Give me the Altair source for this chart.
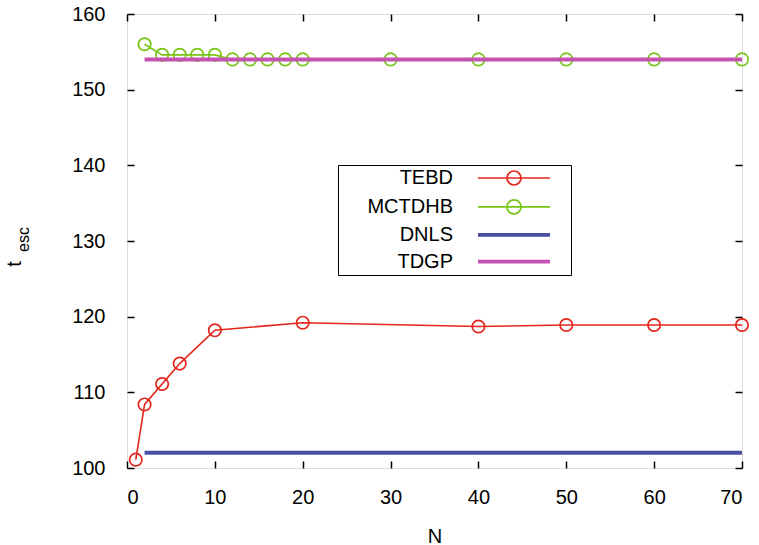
import altair as alt
import pandas as pd

FONT = "Liberation Sans"

methods = ["TEBD", "MCTDHB", "DNLS", "TDGP"]
colors = ["#e2261c", "#78c415", "#4a4ea4", "#c552b1"]

tebd_n = [1, 2, 4, 6, 10, 20, 40, 50, 60, 70]
tebd_t = [101.1, 108.4, 111.1, 113.8, 118.2, 119.2, 118.7, 118.9, 118.9, 118.9]
mctdhb_n = [2, 4, 6, 8, 10, 12, 14, 16, 18, 20, 30, 40, 50, 60, 70]
mctdhb_t = [156.0, 154.6, 154.6, 154.6, 154.6, 154.0, 154.0, 154.0, 154.0, 154.0,
            154.0, 154.0, 154.0, 154.0, 154.0]
dnls_n = [2, 70]
dnls_t = [102.0, 102.0]
tdgp_n = [2, 70]
tdgp_t = [154.0, 154.0]

x_ticks = [0, 10, 20, 30, 40, 50, 60, 70]
y_ticks = [100, 110, 120, 130, 140, 150, 160]

x_title = "N"
y_title_main = "t"
y_title_sub = "esc"

rows = []
for m, ns, ts in [("TEBD", tebd_n, tebd_t), ("MCTDHB", mctdhb_n, mctdhb_t),
                  ("DNLS", dnls_n, dnls_t), ("TDGP", tdgp_n, tdgp_t)]:
    for n, t in zip(ns, ts):
        rows.append({"method": m, "N": n, "t": t})
df = pd.DataFrame(rows)

xs = alt.Scale(domain=[0, 70], nice=False, zero=False)
ys = alt.Scale(domain=[100, 160], nice=False, zero=False)

# legend glyphs (gnuplot style: label on the left, sample on the right)
thin_shape = ("M35.5,0M21.17,0L33.17,0M28.34,0"
              "A1.167,1.167,0,1,1,26.0,0A1.167,1.167,0,1,1,28.34,0")
thick_shape = ("M35.5,0M21.17,-0.167L33.17,-0.167M21.17,0L33.17,0"
               "M21.17,0.167L33.17,0.167")
shapes = [thin_shape, thin_shape, thick_shape, thick_shape]

legend = alt.Legend(
    title=None, orient="none", legendX=211, legendY=151, direction="vertical",
    labelFont=FONT, labelFontSize=20, labelColor="black",
    labelAlign="right", labelBaseline="middle", labelOffset=92,
    symbolSize=144, symbolStrokeWidth=1.7, symbolOpacity=1, rowPadding=6.9,
    padding=3, strokeColor="black",
)

color = alt.Color("method:N", scale=alt.Scale(domain=methods, range=colors), legend=legend)
shape = alt.Shape("method:N", scale=alt.Scale(domain=methods, range=shapes), legend=legend)

ax_bottom_labels = alt.Axis(orient="bottom", values=x_ticks, ticks=False, tickSize=0,
                            domain=False, grid=False, labelFont=FONT, labelFontSize=20,
                            labelColor="black", labelPadding=19, title=x_title,
                            titleFont=FONT, titleFontSize=20, titleFontWeight="normal",
                            titleColor="black", titleBaseline="alphabetic", titleY=74)
ax_left_labels = alt.Axis(orient="left", values=y_ticks, ticks=False, tickSize=0,
                          domain=False, grid=False, labelFont=FONT, labelFontSize=20,
                          labelColor="black", labelPadding=22, title=None)


def tick_axis(orient, vals):
    return alt.Axis(orient=orient, offset={"expr": "-7"}, values=vals, labels=False,
                    domain=False, grid=False, ticks=True, tickSize=7, tickWidth=1.5,
                    tickColor="black", title=None)


base = alt.Chart(df)

legend_layer = base.transform_filter("false").mark_point(
    filled=False, strokeWidth=1.7, opacity=1
).encode(
    x=alt.X("N:Q", scale=xs, axis=None),
    y=alt.Y("t:Q", scale=ys, axis=None),
    color=color,
    shape=shape,
)

thin_lines = base.transform_filter(
    alt.FieldOneOfPredicate(field="method", oneOf=["TEBD", "MCTDHB"])
).mark_line(strokeWidth=1.6).encode(
    x=alt.X("N:Q", scale=xs, axis=ax_bottom_labels),
    y=alt.Y("t:Q", scale=ys, axis=ax_left_labels),
    color=color,
)

points = base.transform_filter(
    alt.FieldOneOfPredicate(field="method", oneOf=["TEBD", "MCTDHB"])
).mark_point(filled=False, size=154, strokeWidth=1.7, opacity=1).encode(
    x=alt.X("N:Q", scale=xs, axis=tick_axis("bottom", x_ticks)),
    y=alt.Y("t:Q", scale=ys, axis=tick_axis("left", y_ticks)),
    color=color,
)

thick_lines = base.transform_filter(
    alt.FieldOneOfPredicate(field="method", oneOf=["DNLS", "TDGP"])
).mark_line(strokeWidth=4).encode(
    x=alt.X("N:Q", scale=xs, axis=tick_axis("top", x_ticks)),
    y=alt.Y("t:Q", scale=ys, axis=tick_axis("right", y_ticks)),
    color=color,
)

t_main = alt.Chart(pd.DataFrame({"s": [y_title_main]})).mark_text(
    font=FONT, fontSize=20, angle=270, align="center", baseline="alphabetic", color="black"
).encode(text="s:N", x=alt.value(-106), y=alt.value(250))

t_sub = alt.Chart(pd.DataFrame({"s": [y_title_sub]})).mark_text(
    font=FONT, fontSize=16, angle=270, align="left", baseline="alphabetic", color="black"
).encode(text="s:N", x=alt.value(-98), y=alt.value(238))

chart = alt.layer(legend_layer, thin_lines, points, thick_lines, t_main, t_sub).resolve_axis(
    x="independent", y="independent"
).properties(
    width=615, height=454,
    autosize=alt.AutoSizeParams(type="none"),
    padding={"left": 127, "top": 14, "right": 17, "bottom": 77},
    background="white",
).configure_view(stroke="black", strokeWidth=1.5).configure(font=FONT)

chart.save("out.html", embed_options={"renderer": "svg", "actions": False})
